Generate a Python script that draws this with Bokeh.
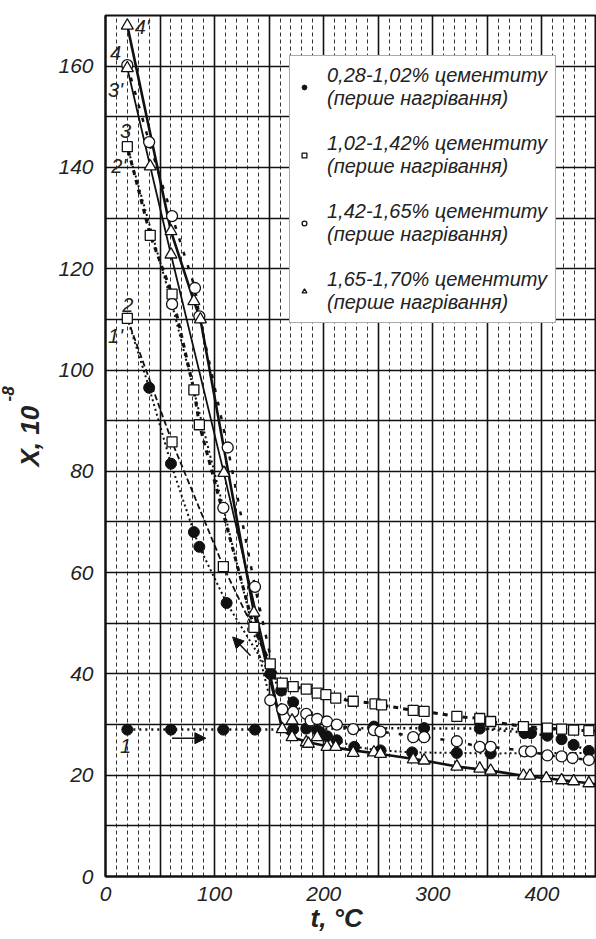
from bokeh.plotting import figure
from bokeh.models import FixedTicker, Legend, LegendItem, Arrow, NormalHead, Range1d, Title
from bokeh.core.properties import value
from bokeh.embed import file_html
from bokeh.resources import INLINE

# ---------------- data ----------------
# marker points
filled_x = [20, 60, 108, 137, 172, 184, 194, 246, 292, 343, 384, 390, 405, 418, 429, 443,
            40, 60, 81, 86, 111, 151, 161, 172, 197, 203, 212, 228, 252, 281, 322, 353]
filled_y = [29.0, 29.0, 29.0, 29.0, 29.1, 29.2, 28.9, 29.6, 29.3, 29.2, 28.3, 28.3, 27.8, 27.1, 26.0, 24.8,
            96.5, 81.5, 68.0, 65.1, 54.0, 40.0, 36.7, 34.4, 28.4, 27.7, 26.9, 25.6, 24.9, 24.5, 24.4, 24.3]

square_x = [20, 41, 61, 81, 86, 136, 20, 61, 108, 151, 162, 172, 184, 194, 202, 211, 227, 247, 253,
            282, 292, 322, 343, 353, 383, 405, 418, 429, 443]
square_y = [144.1, 126.6, 115.0, 96.1, 89.2, 49.2, 110.2, 85.8, 61.2, 42.0, 38.2, 37.5, 37.0, 36.2, 35.9,
            35.2, 34.6, 34.1, 33.9, 32.8, 32.6, 31.6, 31.2, 30.6, 29.6, 29.3, 29.1, 28.9, 28.8]

circle_x = [20, 40, 61, 82, 86, 112, 137, 61, 108, 151, 162, 172, 184, 188, 194, 203, 212, 227, 246,
            252, 282, 292, 322, 343, 353, 384, 390, 405, 418, 428, 443]
circle_y = [160.2, 145.0, 130.4, 116.2, 110.6, 84.7, 57.2, 113.0, 72.8, 34.8, 33.0, 32.5, 32.1, 30.8,
            31.1, 30.6, 30.0, 29.1, 28.9, 28.6, 27.5, 27.5, 26.7, 25.6, 25.6, 24.7, 24.7, 23.9, 23.7,
            23.4, 23.0]

triangle_x = [20, 20, 41, 60, 60, 81, 87, 108.5, 136, 162, 171, 171, 184, 186, 194, 203, 211, 227, 246,
              252, 282, 292, 322, 343, 353, 383, 389, 404, 418, 429, 443]
triangle_y = [168.0, 159.6, 140.2, 127.4, 122.8, 113.6, 110.0, 79.7, 52.1, 29.1, 30.8, 27.5, 26.5, 26.2,
              27.5, 25.6, 25.6, 24.4, 24.5, 24.2, 23.1, 22.9, 21.7, 21.3, 20.9, 19.9, 19.9, 19.4, 19.0,
              18.8, 18.4]

# curves (vertices)
c1_x = [20, 137, 246, 343, 450]
c1_y = [29.0, 29.0, 29.3, 29.2, 29.0]
c1b_x = [343, 390, 405, 418, 429, 443, 450]
c1b_y = [29.2, 28.3, 27.8, 27.1, 26.0, 24.8, 24.4]
c1p_x = [450, 353, 322, 281, 252, 228, 212, 203, 172, 161, 151, 111, 86, 81, 60, 40, 20]
c1p_y = [24.4, 24.3, 24.4, 24.5, 24.9, 25.6, 26.9, 27.7, 34.4, 36.7, 40.0, 54.0, 65.1, 68.0, 81.5, 96.5, 110.2]
c2_x = [20, 61, 108, 151]
c2_y = [110.2, 85.8, 61.2, 42.0]
c2p_x = [450, 443, 429, 418, 405, 383, 353, 343, 322, 292, 282, 252, 246, 227, 211, 202, 194, 184,
         172, 162, 151, 136, 86, 81, 61, 41, 20]
c2p_y = [28.7, 28.8, 28.9, 29.1, 29.3, 29.6, 30.6, 31.2, 31.6, 32.6, 32.8, 33.9, 34.2, 34.6, 35.2, 35.9,
         36.2, 37.0, 37.5, 38.2, 42.0, 49.2, 89.2, 96.1, 115.0, 126.6, 144.1]
c3_x = [20, 61, 108, 151]
c3_y = [144.1, 113.0, 72.8, 34.8]
c3p_x = [450, 443, 428, 418, 405, 390, 353, 343, 322, 292, 252, 227, 212, 203, 194, 183, 172, 162,
         137, 112, 86, 82, 61, 40, 20]
c3p_y = [22.8, 23.0, 23.4, 23.7, 23.9, 24.7, 25.6, 25.6, 26.7, 27.5, 28.6, 29.1, 30.0, 30.6, 31.1, 32.1,
         32.5, 33.0, 57.2, 84.7, 110.6, 116.2, 130.4, 145.0, 160.2]
c4_x = [20, 41, 60, 108.5, 151, 162]
c4_y = [159.6, 140.2, 122.8, 79.7, 40.0, 29.1]
c4p_x = [450, 443, 404, 383, 353, 322, 292, 252, 227, 203, 186, 171, 162, 136, 87, 81, 60, 20]
c4p_y = [18.2, 18.4, 19.4, 19.9, 20.9, 21.7, 22.9, 24.2, 24.9, 25.7, 26.5, 27.5, 29.1, 52.1, 110.0,
         113.6, 127.4, 168.0]

legend_labels = ["0,28-1,02% цементиту\n(перше нагрівання)",
                 "1,02-1,42% цементиту\n(перше нагрівання)",
                 "1,42-1,65% цементиту\n(перше нагрівання)",
                 "1,65-1,70% цементиту\n(перше нагрівання)"]

curve_names = ["1", "1'", "2", "2'", "3", "3'", "4", "4'"]
curve_name_x = [18.3, 9.2, 20.5, 12.2, 18.3, 9.2, 9.2, 33.6]
curve_name_y = [25.8, 106.7, 112.9, 140.3, 147.1, 155.3, 162.6, 167.8]

x_ticks = [0, 100, 200, 300, 400]
y_ticks = [0, 20, 40, 60, 80, 100, 120, 140, 160]

# ---------------- figure ----------------
FONT = "Liberation Sans"
INK = "#111111"
TXT = "#222222"

p = figure(frame_width=491, frame_height=861, output_backend="svg", toolbar_location=None,
           x_range=Range1d(0, 450), y_range=Range1d(0, 170),
           min_border_left=105, min_border_right=0, min_border_top=15, min_border_bottom=60)
p.background_fill_color = "white"
p.border_fill_color = "white"
p.outline_line_color = INK
p.outline_line_width = 2

# grid
p.xgrid.ticker = FixedTicker(ticks=list(range(0, 451, 50)),
                             minor_ticks=[v for v in range(0, 451, 10) if v % 50])
p.xgrid.grid_line_color = INK
p.xgrid.grid_line_width = 1.6
p.xgrid.grid_line_alpha = 1
p.xgrid.minor_grid_line_color = "#333333"
p.xgrid.minor_grid_line_width = 1
p.xgrid.minor_grid_line_dash = "4 3"
p.ygrid.ticker = FixedTicker(ticks=list(range(0, 171, 10)))
p.ygrid.grid_line_color = INK
p.ygrid.grid_line_width = 1.6
p.ygrid.grid_line_alpha = 1

# axes
for ax in (p.xaxis[0], p.yaxis[0]):
    ax.axis_line_color = INK
    ax.axis_line_width = 2
    ax.major_tick_out = 0
    ax.major_tick_in = 0
    ax.minor_tick_out = 0
    ax.minor_tick_in = 0
    ax.major_label_text_font = FONT
    ax.major_label_text_font_style = "italic"
    ax.major_label_text_font_size = "21px"
    ax.major_label_text_color = TXT
p.xaxis.ticker = FixedTicker(ticks=x_ticks)
p.yaxis.ticker = FixedTicker(ticks=y_ticks)
p.xaxis.major_label_standoff = 10
p.yaxis.major_label_standoff = 12

# axis titles (exponent as a separate, smaller title)
p.add_layout(Title(text="X, 10", align="left", offset=410, standoff=22,
                   text_font=FONT, text_font_style="bold italic", text_font_size="26px",
                   text_color=TXT), "left")
p.add_layout(Title(text="-8", align="left", offset=475, standoff=-25,
                   text_font=FONT, text_font_style="bold italic", text_font_size="17px",
                   text_color=TXT), "left")
p.add_layout(Title(text="t, °C", align="left", offset=205, standoff=-6,
                   text_font=FONT, text_font_style="bold italic", text_font_size="26px",
                   text_color=TXT), "below")

# curves
p.line(c1_x, c1_y, line_color=INK, line_width=2.5, line_dash="2 4")
p.line(c1b_x, c1b_y, line_color=INK, line_width=2.5, line_dash="2 4")
p.line(c1p_x, c1p_y, line_color=INK, line_width=2, line_dash="2 3")
p.line(c2_x, c2_y, line_color=INK, line_width=1.8, line_dash="6 3")
p.line(c2p_x, c2p_y, line_color=INK, line_width=3, line_dash="5 5")
p.line(c3_x, c3_y, line_color=INK, line_width=2, line_dash="2 3")
p.line(c3p_x, c3p_y, line_color=INK, line_width=2.5, line_dash="4 10")
p.line(c4_x, c4_y, line_color=INK, line_width=1.8)
p.line(c4p_x, c4p_y, line_color=INK, line_width=2.6)

# markers
r_fill = p.scatter(filled_x, filled_y, marker="circle", size=11, fill_color=INK, line_color=INK)
r_sq = p.scatter(square_x, square_y, marker="square", size=10, fill_color="white",
                 line_color=INK, line_width=1.3)
r_ci = p.scatter(circle_x, circle_y, marker="circle", size=11, fill_color="white",
                 line_color=INK, line_width=1.3)
r_tr = p.scatter(triangle_x, triangle_y, marker="triangle", size=12, fill_color="white",
                 line_color=INK, line_width=1.3)

# curve names
p.text(curve_name_x, curve_name_y, text=curve_names, text_font=value(FONT),
       text_font_style="italic", text_font_size="20px", text_color=TXT,
       text_align="center", text_baseline="middle")

# arrows
p.add_layout(Arrow(x_start=61, y_start=27.3, x_end=92, y_end=27.3, line_color=INK, line_width=1.5,
                   end=NormalHead(size=11, fill_color=INK, line_color=INK)))
p.add_layout(Arrow(x_start=133, y_start=43.6, x_end=116.5, y_end=47.3, line_color=INK, line_width=1.5,
                   end=NormalHead(size=11, fill_color=INK, line_color=INK)))

# legend
legend = Legend(items=[LegendItem(label=legend_labels[0], renderers=[r_fill]),
                       LegendItem(label=legend_labels[1], renderers=[r_sq]),
                       LegendItem(label=legend_labels[2], renderers=[r_ci]),
                       LegendItem(label=legend_labels[3], renderers=[r_tr])],
                location=(184, 553), margin=0, padding=8, spacing=22,
                glyph_width=12, glyph_height=12, label_standoff=17,
                label_text_font=FONT, label_text_font_style="italic",
                label_text_font_size="20px", label_text_color=TXT,
                label_text_line_height=1.0,
                border_line_color="#555555", border_line_width=1.5,
                background_fill_color="white", background_fill_alpha=1)
p.add_layout(legend, "center")

open("out.html", "w").write(file_html(p, INLINE))
